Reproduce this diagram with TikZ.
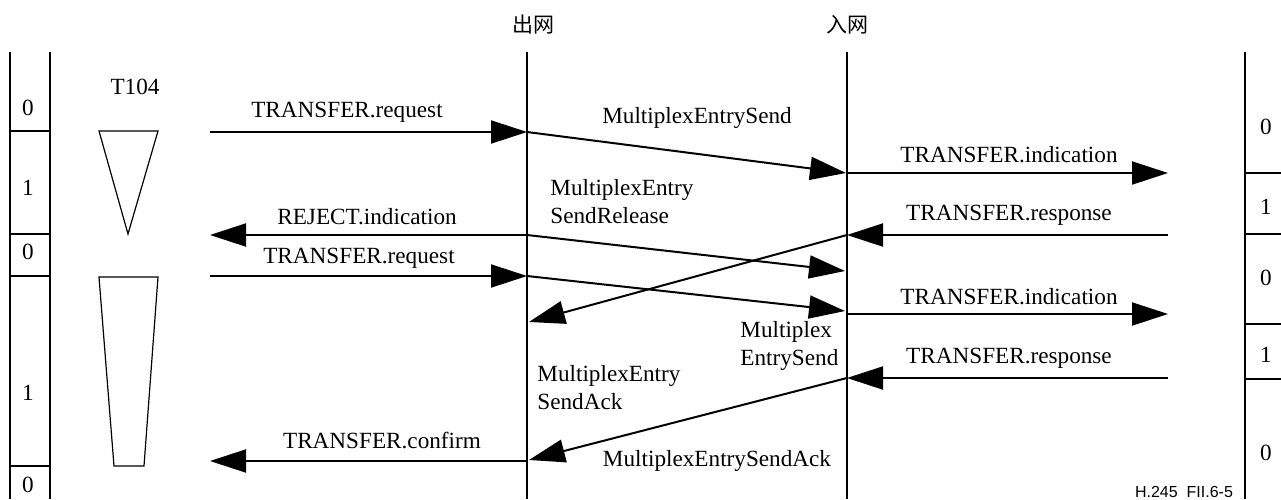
\documentclass[tikz,border=0pt]{standalone}
\usepackage{fontspec}
\setmainfont{Liberation Serif}
\newfontfamily\cjk{Noto Sans CJK SC}
\newfontfamily\figsans{Liberation Sans}
\usetikzlibrary{arrows.meta,positioning}

\tikzset{
  msg/.style={line width=1pt,-{Triangle[length=18pt,width=11.5pt]}},
  life/.style={line width=0.7pt},
  lbl/.style={inner sep=0pt,font=\fontsize{11.6}{14}\selectfont},
  twoline/.style={lbl,align=left,anchor=west}
}

\begin{document}
\begin{tikzpicture}[x=0.5pt,y=-0.5pt]

  \useasboundingbox (0,0) rectangle (1281,499);

  % life lines
  \draw[life] (10,52) -- (10,499);
  \draw[life] (50,52) -- (50,499);
  \draw[life] (527,52) -- (527,499);
  \draw[life] (847,52) -- (847,499);
  \draw[life] (1245,52) -- (1245,499);
  \node[font=\cjk\fontsize{10.5}{12}\selectfont,inner sep=0pt] (out) at (533,25) {出网};
  \node[font=\cjk\fontsize{10.5}{12}\selectfont,inner sep=0pt] (in) at (847,25) {入网};

  % bit columns
  \foreach \y in {131,234,276,466}
  {
      \draw[life] (10,\y) -- (50,\y);
  }
  \foreach \y in {173,234,324,379}
  {
      \draw[life] (1245,\y) -- (1281,\y);
  }
  \foreach \y/\b [count=\i] in {108/0,188/1,252/0,393/1,485/0}
  {
      \node[lbl] (lbit\i) at (28,\y) {\b};
  }
  \foreach \y/\b [count=\i] in {127/0,207/1,278/0,355/1,453/0}
  {
      \node[lbl] (rbit\i) at (1266,\y) {\b};
  }

  % T104
  \node[lbl] (t104) at (135,87) {T104};
  \draw[line width=0.6pt] (99,131) -- (158,131) -- (128,234) -- cycle;
  \draw[line width=0.6pt] (99,277) -- (158,277) -- (144,466) -- (114,466) -- cycle;

  % end points
  \coordinate (a1) at (210,132);
  \coordinate (o1) at (527,132);
  \coordinate (i1) at (846,173);
  \coordinate (r1) at (1168,173);
  \coordinate (a2) at (210,235);
  \coordinate (o2) at (527,235);
  \coordinate (i2) at (845,271);
  \coordinate (i3) at (847,235);
  \coordinate (r3) at (1168,235);
  \coordinate (o3) at (529,322);
  \coordinate (a4) at (210,276);
  \coordinate (o4) at (527,276);
  \coordinate (i4) at (845,311);
  \coordinate (i5) at (847,314);
  \coordinate (r5) at (1168,314);
  \coordinate (i6) at (847,378);
  \coordinate (r6) at (1168,378);
  \coordinate (o6) at (529,460);
  \coordinate (o7) at (527,461);
  \coordinate (a7) at (210,461);

  % messages
  \draw[msg] (a1) -- (o1);
  \node[lbl] (req1) at (347,112) {TRANSFER.request};
  \draw[msg] (o1) -- (i1);
  \node[lbl] (mes1) at (697,118) {MultiplexEntrySend};
  \draw[msg] (i1) -- (r1);
  \node[lbl] (ind1) at (1009,155) {TRANSFER.indication};

  \draw[msg] (o2) -- (a2);
  \node[lbl] (rej) at (367,217) {REJECT.indication};
  \draw[msg] (o2) -- (i2);
  \node[twoline] (mesr) at (550,202) {MultiplexEntry\\SendRelease};

  \draw[msg] (r3) -- (i3);
  \node[lbl] (rsp1) at (1009,215) {TRANSFER.response};
  \draw[msg] (i3) -- (o3);

  \draw[msg] (a4) -- (o4);
  \node[lbl] (req2) at (359,258) {TRANSFER.request};
  \draw[msg] (o4) -- (i4);
  \node[twoline] (mes2) at (740,346) {Multiplex\\EntrySend};
  \draw[msg] (i5) -- (r5);
  \node[lbl] (ind2) at (1009,297) {TRANSFER.indication};

  \draw[msg] (r6) -- (i6);
  \node[lbl] (rsp2) at (1009,358) {TRANSFER.response};
  \draw[msg] (i6) -- (o6);
  \node[twoline] (ack1) at (537,388) {MultiplexEntry\\SendAck};
  \node[lbl] (ack2) at (717,461) {MultiplexEntrySendAck};

  \draw[msg] (o7) -- (a7);
  \node[lbl] (cnf) at (382,440) {TRANSFER.confirm};

  \node[font=\figsans\fontsize{8}{9}\selectfont,inner sep=0pt] (fig) at (1184,492) {H.245~~FII.6-5};
\end{tikzpicture}
\end{document}
